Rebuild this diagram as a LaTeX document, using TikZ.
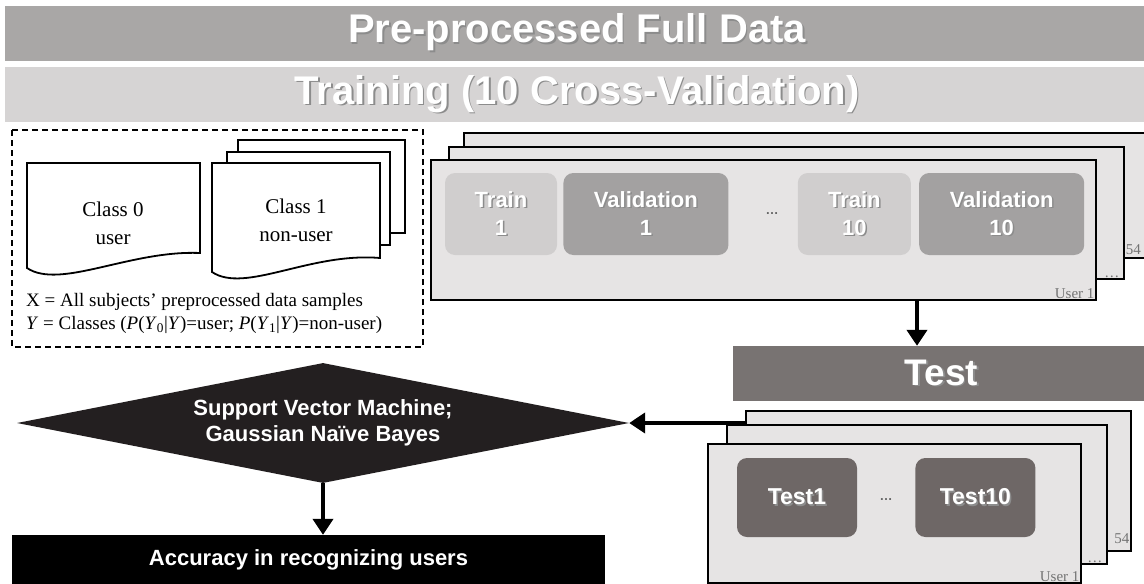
\documentclass[tikz,border=0pt]{standalone}
\usepackage{fontspec}
\setmainfont{Liberation Serif}
\setsansfont{Liberation Sans}
\usetikzlibrary{positioning,shapes.geometric,arrows.meta}
\definecolor{fullgray}{HTML}{A9A7A6}
\definecolor{traingray}{HTML}{D6D4D4}
\definecolor{cardgray}{HTML}{E6E4E4}
\definecolor{trainbox}{HTML}{D0CECE}
\definecolor{valbox}{HTML}{A3A1A1}
\definecolor{testgray}{HTML}{787372}
\definecolor{testbox}{HTML}{6E6766}
\definecolor{svmblack}{HTML}{231F20}
\newcommand\shtext[1]{\leavevmode\rlap{\kern1.5pt\raisebox{-1.5pt}{\textcolor{black!45}{#1}}}#1}

\begin{document}
\begin{tikzpicture}[x=1pt,y=-1pt]
    \tikzset{bar/.style={inner sep=0, text=white, font=\sffamily\bfseries\fontsize{40}{44}\selectfont},
             card/.style={draw, line width=1.6pt, fill=cardgray, anchor=north west, inner sep=0},
             fold/.style={inner sep=0, rounded corners=10pt, text=white, align=center,
                          font=\sffamily\bfseries\fontsize{22}{28}\selectfont},
             userlbl/.style={text=black!55, font=\fontsize{15}{17}\selectfont, anchor=south east, inner sep=2pt},
             dots/.style={text=black!60, font=\sffamily\bfseries\fontsize{13}{15}\selectfont},
             doc/.style={draw, line width=1.8pt, fill=white},
             flow/.style={line width=4pt, -{Triangle[length=16pt,width=20pt]}}}
    \useasboundingbox (0,0) rectangle (1144,584);
    \node[bar, fill=fullgray, minimum width=1144, minimum height=55] (full) at (577,33) {\shtext{Pre-processed Full Data}};
    \node[bar, fill=traingray, minimum width=1144, minimum height=55] (cv) at (577,94.5) {\shtext{Training (10 Cross-Validation)}};

    \draw[line width=2pt, dash pattern=on 6pt off 4pt] (12,130) rectangle (423,347);
    \draw[doc] (27,163) -- (200,163) -- (200,253) .. controls (130,250) and (60,290) .. (27,268) -- cycle;
    \node[font=\fontsize{21}{28}\selectfont, align=center] (cls0) at (113,223) {Class 0\\user};
    \draw[doc] (238,140) rectangle (405,233);
    \draw[doc] (227,152) rectangle (390,245);
    \draw[doc] (212,163) -- (380,163) -- (380,258) .. controls (310,252) and (245,294) .. (212,272) -- cycle;
    \node[font=\fontsize{21}{28}\selectfont, align=center] (cls1) at (296,220) {Class 1\\non-user};
    \node[anchor=west, inner sep=0, font=\fontsize{19}{22}\selectfont] (xdef) at (26,302)
        {X = All subjects' preprocessed data samples};
    \node[anchor=west, inner sep=0, font=\fontsize{19}{22}\selectfont] (ydef) at (26,325)
        {\textit{Y} = Classes (\textit{P}(\textit{Y}\textsubscript{0}|\textit{Y})=user; \textit{P}(\textit{Y}\textsubscript{1}|\textit{Y})=non-user)};

    \node[card, minimum width=697, minimum height=125] (trainC) at (463,132) {};
    \node[userlbl] (lblC) at (1143,257) {54};
    \node[card, minimum width=675, minimum height=132] (trainB) at (448,146) {};
    \node[userlbl] (lblB) at ([xshift=-3pt]trainB.south east) {\ldots};
    \node[card, minimum width=665, minimum height=140] (trainA) at (430,159) {};
    \node[userlbl] (lblA) at (trainA.south east) {User 1};
    \node[fold, fill=trainbox, minimum width=112, minimum height=82] (tr1) at (501,214) {\shtext{Train}\\\shtext{1}};
    \node[fold, fill=valbox, minimum width=165, minimum height=82, right=6pt of tr1] (va1) {\shtext{Validation}\\\shtext{1}};
    \node[fold, fill=trainbox, minimum width=113, minimum height=82, right=69pt of va1] (tr10) {\shtext{Train}\\\shtext{10}};
    \node[fold, fill=valbox, minimum width=165, minimum height=82, right=8pt of tr10] (va10) {\shtext{Validation}\\\shtext{10}};
    \node[dots] (trdots) at (772,214) {\ldots};

    \node[bar, fill=testgray, minimum width=417, minimum height=55, font=\sffamily\bfseries\fontsize{37}{40}\selectfont] (test) at (941.5,373.5) {\shtext{Test}};
    \node[card, minimum width=385, minimum height=140] (testC) at (745,410) {};
    \node[userlbl] (lblTC) at ([yshift=6pt]testC.south east) {54};
    \node[card, minimum width=380, minimum height=139] (testB) at (726,424) {};
    \node[userlbl] (lblTB) at ([xshift=-3pt]testB.south east) {\ldots};
    \node[card, minimum width=373, minimum height=139] (testA) at (707,443) {};
    \node[userlbl] (lblTA) at (testA.south east) {User 1};
    \node[fold, fill=testbox, minimum width=120, minimum height=79, font=\sffamily\bfseries\fontsize{23}{28}\selectfont] (ts1) at (797,497.5) {\shtext{Test1}};
    \node[fold, fill=testbox, minimum width=120, minimum height=79, font=\sffamily\bfseries\fontsize{23}{28}\selectfont, right=58pt of ts1] (ts10) {\shtext{Test10}};
    \node[dots] (tsdots) at (886,500) {\ldots};

    \node[diamond, fill=svmblack, text=white, aspect=5.08, minimum width=612, minimum height=120, inner sep=0,
          align=center, font=\sffamily\bfseries\fontsize{22}{26}\selectfont] (svm) at (323,423)
          {Support Vector Machine;\\Gaussian Naïve Bayes};
    \node[fill=black, text=white, minimum width=593, minimum height=50, inner sep=0,
          font=\sffamily\bfseries\fontsize{22}{26}\selectfont] (acc) at (308.5,560) {Accuracy in recognizing users};

    \coordinate (drop) at (917,299);
    \draw[flow] (drop) -- (drop |- test.north);
    \draw[flow] (testC.west |- svm.east) -- (svm.east);
    \draw[flow] (svm.south) -- (svm.south |- acc.north);
\end{tikzpicture}
\end{document}
